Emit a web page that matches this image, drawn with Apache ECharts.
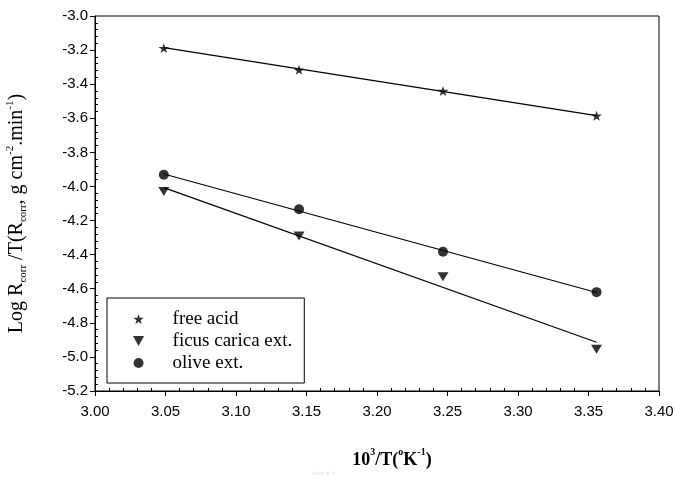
<!DOCTYPE html>
<html>
<head>
<meta charset="utf-8">
<script src="https://cdn.jsdelivr.net/npm/echarts@6/dist/echarts.min.js"></script>
<style>html,body{margin:0;padding:0;background:#fff}#c{width:675px;height:479px}</style>
</head>
<body>
<div id="c"></div>
<script>
// 1000/T values (K^-1 x 10^3)
const xVals = [3.0488, 3.1447, 3.2468, 3.3557];
const freeAcid = [-3.188, -3.316, -3.440, -3.585];
const ficus = [-4.030, -4.290, -4.530, -4.955];
const olive = [-3.931, -4.134, -4.383, -4.620];
// fitted-line endpoints
const fitX = [3.0488, 3.3557];
const fitFree = [-3.185, -3.585];
const fitFicus = [-4.007, -4.914];
const fitOlive = [-3.927, -4.622];
const xTicks = ['3.00','3.05','3.10','3.15','3.20','3.25','3.30','3.35','3.40'];
const yTicks = ['-3.0','-3.2','-3.4','-3.6','-3.8','-4.0','-4.2','-4.4','-4.6','-4.8','-5.0','-5.2'];
const names = ['free acid', 'ficus carica ext.', 'olive ext.'];

const pts = (ys) => xVals.map((x, i) => [x, ys[i]]);
const fit = (ys) => fitX.map((x, i) => [x, ys[i]]);
const star = 'path://M50,0 L61,35 L98,35 L68,57 L79,91 L50,70 L21,91 L32,57 L2,35 L39,35 Z';
const downTri = 'path://M0,0 L10,0 L5,9 Z';

const chart = echarts.init(document.getElementById('c'), null, {renderer: 'canvas'});
const axisFont = {fontFamily: 'Liberation Sans', fontSize: 15, color: '#000'};
chart.setOption({
  animation: false,
  backgroundColor: '#fff',
  grid: {left: 95, right: 16, top: 16, bottom: 88, show: true, borderColor: '#000', borderWidth: 1, backgroundColor: 'transparent', containLabel: false, outerBoundsMode: 'none'},
  xAxis: {
    type: 'value', min: 3.00, max: 3.40, interval: 0.05,
    name: '{b|10}{sup|3}{b|/T(}{sup|o}{b|K}{sup|-1}{b|)}',
    nameLocation: 'middle', nameGap: 56,
    nameTextStyle: {
      padding: [0, 0, 0, 30],
      rich: {
        b: {fontFamily: 'Liberation Serif', fontWeight: 'bold', fontSize: 18, color: '#000', lineHeight: 22, verticalAlign: 'bottom'},
        sup: {fontFamily: 'Liberation Serif', fontWeight: 'bold', fontSize: 10, color: '#000', lineHeight: 22, verticalAlign: 'top'}
      }
    },
    axisLine: {onZero: false, lineStyle: {color: '#000', width: 1}},
    axisTick: {inside: false, length: 5, lineStyle: {color: '#000'}},
    minorTick: {show: true, splitNumber: 5, length: -3, lineStyle: {color: '#000'}},
    splitLine: {show: false},
    axisLabel: Object.assign({margin: 13, formatter: (v) => xTicks[Math.round((v - 3.0) / 0.05)] || v.toFixed(2)}, axisFont)
  },
  yAxis: {
    type: 'value', min: -5.2, max: -3.0, interval: 0.2,
    name: '{t|Log R}{s|corr}{t| /T(R}{s|corr}{t|, g cm}{p|-2}{t|.min}{p|-1}{t|)}',
    nameLocation: 'middle', nameGap: 66,
    nameTextStyle: {
      padding: [0, 20, 0, 0],
      rich: {
        t: {fontFamily: 'Liberation Serif', fontSize: 20, color: '#000', lineHeight: 24, verticalAlign: 'middle'},
        s: {fontFamily: 'Liberation Serif', fontSize: 11, color: '#000', lineHeight: 24, verticalAlign: 'bottom'},
        p: {fontFamily: 'Liberation Serif', fontSize: 11, color: '#000', lineHeight: 24, verticalAlign: 'top'}
      }
    },
    axisLine: {onZero: false, lineStyle: {color: '#000', width: 1}},
    axisTick: {inside: false, length: 5, lineStyle: {color: '#000'}},
    minorTick: {show: true, splitNumber: 5, length: -3, lineStyle: {color: '#000'}},
    splitLine: {show: false},
    axisLabel: Object.assign({margin: 7, formatter: (v) => yTicks[Math.round((-3.0 - v) / 0.2)] || v.toFixed(1)}, axisFont)
  },
  legend: {
    orient: 'vertical', left: 107, top: 298,
    data: names,
    padding: [10, 12, 9, 26],
    itemGap: 0, itemWidth: 14, itemHeight: 10,
    borderColor: '#000', borderWidth: 1, borderRadius: 0,
    backgroundColor: '#fff',
    textStyle: {fontFamily: 'Liberation Serif', fontSize: 19, color: '#000', lineHeight: 22, padding: [0, 0, 0, 22]}
  },
  graphic: [{
    type: 'text', left: 312, top: 471,
    style: {text: '10³/T(°K⁻¹)', font: '5px Liberation Serif', fill: '#cfcfcf'}
  }],
  series: [
    {type: 'line', data: fit(fitFree), symbol: 'none', lineStyle: {color: '#000', width: 1.2}, silent: true, z: 2},
    {type: 'line', data: fit(fitFicus), symbol: 'none', lineStyle: {color: '#000', width: 1.2}, silent: true, z: 2},
    {type: 'line', data: fit(fitOlive), symbol: 'none', lineStyle: {color: '#000', width: 1.2}, silent: true, z: 2},
    {name: names[0], type: 'scatter', data: pts(freeAcid), symbol: star, symbolSize: [11, 10], itemStyle: {color: '#000'}, z: 3},
    {name: names[1], type: 'scatter', data: pts(ficus), symbol: downTri, symbolSize: [11, 9], itemStyle: {color: '#000'}, z: 3},
    {name: names[2], type: 'scatter', data: pts(olive), symbol: 'circle', symbolSize: 10, itemStyle: {color: '#000'}, z: 3}
  ]
});
</script>
</body>
</html>
